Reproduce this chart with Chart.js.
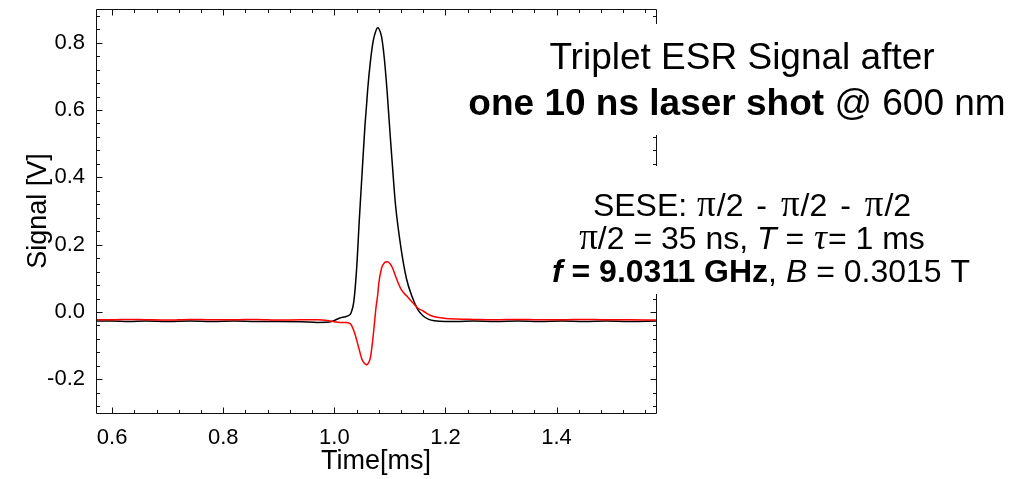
<!DOCTYPE html>
<html>
<head>
<meta charset="utf-8">
<script src="https://cdn.jsdelivr.net/npm/chart.js@4.4.1/dist/chart.umd.min.js"></script>
<style>
  html, body { margin: 0; padding: 0; background: #fff; }
  #wrap { width: 1025px; height: 479px; position: relative; }
</style>
</head>
<body>
<div id="wrap"><canvas id="c"></canvas></div>
<script>
// ---- data ----
const timeMs = [0.57, 0.60, 0.63, 0.66, 0.70, 0.74, 0.78, 0.82, 0.86, 0.90, 0.94, 0.97, 0.99, 1.00, 1.01, 1.02, 1.025, 1.03, 1.035, 1.04, 1.045, 1.05, 1.055, 1.058, 1.06, 1.065, 1.07, 1.075, 1.078, 1.08, 1.085, 1.09, 1.095, 1.10, 1.105, 1.11, 1.12, 1.13, 1.14, 1.15, 1.16, 1.17, 1.18, 1.20, 1.22, 1.25, 1.29, 1.33, 1.37, 1.41, 1.45, 1.49, 1.53, 1.58];
const signalBlack = [-0.027, -0.027, -0.028, -0.027, -0.028, -0.027, -0.028, -0.027, -0.028, -0.028, -0.029, -0.031, -0.030, -0.025, -0.018, -0.014, -0.011, -0.003, 0.030, 0.125, 0.275, 0.414, 0.550, 0.615, 0.660, 0.745, 0.805, 0.836, 0.844, 0.842, 0.818, 0.753, 0.655, 0.537, 0.425, 0.320, 0.190, 0.098, 0.045, 0.008, -0.012, -0.022, -0.026, -0.028, -0.028, -0.027, -0.028, -0.027, -0.028, -0.027, -0.028, -0.027, -0.028, -0.027];
const signalRed = [-0.023, -0.023, -0.022, -0.023, -0.024, -0.022, -0.023, -0.023, -0.022, -0.024, -0.023, -0.023, -0.026, -0.029, -0.031, -0.031, -0.032, -0.037, -0.055, -0.082, -0.113, -0.142, -0.154, -0.157, -0.155, -0.135, -0.070, 0.013, 0.050, 0.085, 0.130, 0.146, 0.149, 0.144, 0.130, 0.107, 0.068, 0.048, 0.030, 0.012, 0.003, -0.008, -0.014, -0.019, -0.021, -0.022, -0.023, -0.022, -0.023, -0.023, -0.022, -0.023, -0.023, -0.024];
const xTickValues = [0.6, 0.8, 1.0, 1.2, 1.4];
const yTickValues = [-0.2, 0.0, 0.2, 0.4, 0.6, 0.8];
const xRange = [0.571, 1.579];
const yRange = [-0.3, 0.9];
const minorStep = 0.04;

const SANS = '"Liberation Sans", Arial, sans-serif';
const SERIF = '"Liberation Serif", "Times New Roman", serif';

function toPoints(xs, ys) { return xs.map((x, i) => ({ x: x, y: ys[i] })); }

// frame with inward ticks on all four sides
const frameTicks = {
  id: 'frameTicks',
  afterDatasetsDraw(chart) {
    const { ctx, chartArea: a, scales: { x, y } } = chart;
    const L = Math.round(a.left) + 0.5, R = Math.round(a.right) + 0.5;
    const T = Math.round(a.top) + 0.5, B = Math.round(a.bottom) + 0.5;
    ctx.save();
    ctx.strokeStyle = '#111';
    ctx.lineWidth = 1;
    ctx.beginPath();
    ctx.rect(L, T, R - L, B - T);
    const major = 6, minor = 3.5;
    const nx0 = Math.ceil((x.min - 1e-9) / minorStep), nx1 = Math.floor((x.max + 1e-9) / minorStep);
    for (let k = nx0; k <= nx1; k++) {
      const v = k * minorStep;
      const isMajor = xTickValues.some(t => Math.abs(t - v) < 1e-6);
      const len = isMajor ? major : minor;
      const px = Math.round(x.getPixelForValue(v)) + 0.5;
      ctx.moveTo(px, B); ctx.lineTo(px, B - len);
      ctx.moveTo(px, T); ctx.lineTo(px, T + len);
    }
    const ny0 = Math.ceil((y.min - 1e-9) / minorStep), ny1 = Math.floor((y.max + 1e-9) / minorStep);
    for (let k = ny0; k <= ny1; k++) {
      const v = k * minorStep;
      const isMajor = yTickValues.some(t => Math.abs(t - v) < 1e-6);
      const len = isMajor ? major : minor;
      const py = Math.round(y.getPixelForValue(v)) + 0.5;
      ctx.moveTo(L, py); ctx.lineTo(L + len, py);
      ctx.moveTo(R, py); ctx.lineTo(R - len, py);
    }
    ctx.stroke();
    ctx.restore();
  }
};

function drawRich(ctx, segs, cx, baseY) {
  let total = 0;
  segs.forEach(s => { ctx.font = s.f; s.w = ctx.measureText(s.t).width + (s.g || 0) * 2; total += s.w; });
  let xx = cx - total / 2;
  ctx.textAlign = 'left';
  ctx.textBaseline = 'alphabetic';
  segs.forEach(s => { ctx.font = s.f; ctx.fillText(s.t, xx + (s.g || 0), baseY); xx += s.w; });
}

const annotations = {
  id: 'annotations',
  afterDraw(chart) {
    const ctx = chart.ctx;
    ctx.save();
    ctx.fillStyle = '#fff';
    ctx.fillRect(462, 24, 552, 111);
    ctx.fillRect(545, 166, 436, 128);
    ctx.fillStyle = '#000';
    const r1 = '37px ' + SANS, b1 = 'bold 37px ' + SANS;
    drawRich(ctx, [{ t: 'Triplet ESR Signal after', f: r1 }], 742, 69);
    drawRich(ctx, [{ t: 'one 10 ns laser shot', f: b1 }, { t: ' @ 600 nm', f: r1 }], 737, 115);
    const r2 = '32px ' + SANS, i2 = 'italic 32px ' + SANS, b2 = 'bold 32px ' + SANS, bi2 = 'bold italic 32px ' + SANS;
    const p2 = '37px ' + SERIF, t2 = 'italic 36px ' + SERIF;
    drawRich(ctx, [
      { t: 'SESE: ', f: r2 }, { t: 'π', f: p2, g: 1 }, { t: '/2 ', f: r2 }, { t: '-', f: r2, g: 4 }, { t: ' ', f: r2 },
      { t: 'π', f: p2, g: 1 }, { t: '/2 ', f: r2 }, { t: '-', f: r2, g: 4 }, { t: ' ', f: r2 },
      { t: 'π', f: p2, g: 1 }, { t: '/2', f: r2 }
    ], 752, 216);
    drawRich(ctx, [
      { t: 'π', f: p2 }, { t: '/2 = 35 ns, ', f: r2 }, { t: 'T', f: i2 },
      { t: ' = ', f: r2 }, { t: 'τ', f: t2, g: 1 }, { t: '= 1 ms', f: r2 }
    ], 752, 249);
    drawRich(ctx, [
      { t: 'f', f: bi2 }, { t: ' = 9.0311 GHz', f: b2 }, { t: ', ', f: r2 },
      { t: 'B', f: i2 }, { t: ' = 0.3015 T', f: r2 }
    ], 761, 282);
    ctx.restore();
  }
};

new Chart(document.getElementById('c'), {
  type: 'line',
  data: {
    datasets: [
      {
        label: 'Signal (red)',
        data: toPoints(timeMs, signalRed),
        borderColor: '#ff0000',
        borderWidth: 1.5,
        pointRadius: 0,
        cubicInterpolationMode: 'monotone',
        fill: false
      },
      {
        label: 'Signal (black)',
        data: toPoints(timeMs, signalBlack),
        borderColor: '#000000',
        borderWidth: 1.5,
        pointRadius: 0,
        cubicInterpolationMode: 'monotone',
        fill: false
      }
    ]
  },
  options: {
    responsive: true,
    maintainAspectRatio: false,
    animation: false,
    events: [],
    layout: { padding: { left: 0, right: 369, top: 9, bottom: 0 } },
    plugins: { legend: { display: false }, tooltip: { enabled: false } },
    scales: {
      x: {
        type: 'linear',
        min: xRange[0],
        max: xRange[1],
        afterFit(s) { s.height = 66; s.paddingLeft = 0; s.paddingRight = 0; },
        afterBuildTicks(s) { s.ticks = xTickValues.map(v => ({ value: v })); },
        grid: { display: false, drawTicks: false },
        border: { display: false },
        ticks: {
          padding: 12,
          color: '#000',
          font: { family: SANS, size: 22 },
          maxRotation: 0,
          autoSkip: false,
          callback: v => v.toFixed(1)
        },
        title: {
          display: true,
          text: 'Time[ms]',
          color: '#000',
          font: { family: SANS, size: 27 },
          padding: { top: 0, bottom: 1 }
        }
      },
      y: {
        type: 'linear',
        min: yRange[0],
        max: yRange[1],
        afterFit(s) { s.width = 96; s.paddingTop = 0; s.paddingBottom = 0; },
        afterBuildTicks(s) { s.ticks = yTickValues.map(v => ({ value: v })); },
        grid: { display: false, drawTicks: false },
        border: { display: false },
        ticks: {
          padding: 11,
          color: '#000',
          font: { family: SANS, size: 22 },
          autoSkip: false,
          callback: v => v.toFixed(1)
        },
        title: {
          display: true,
          text: 'Signal [V]',
          color: '#000',
          font: { family: SANS, size: 27 },
          padding: { top: 22, bottom: 0 }
        }
      }
    }
  },
  plugins: [frameTicks, annotations]
});
</script>
</body>
</html>
